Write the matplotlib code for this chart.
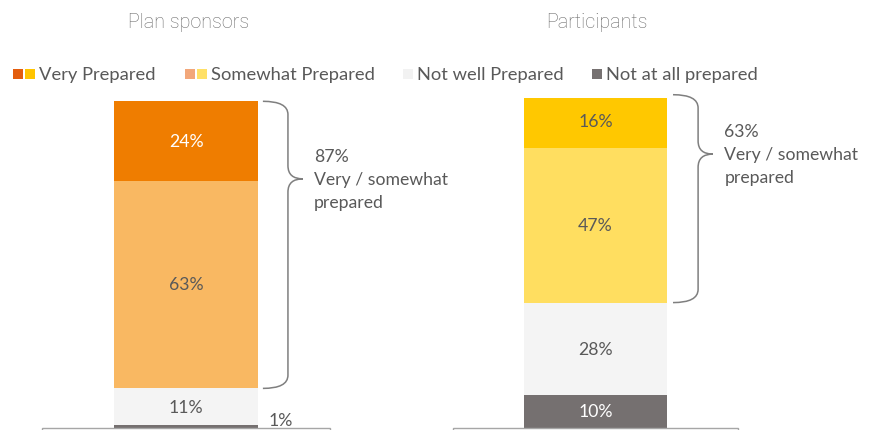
import matplotlib
matplotlib.use("Agg")
import matplotlib.pyplot as plt
from matplotlib.patches import Rectangle, PathPatch
from matplotlib.path import Path
import matplotlib.transforms as mtransforms

plt.rcParams['font.family'] = ['Lato', 'DejaVu Sans']

# ---- data ----
panels = ["Plan sponsors", "Participants"]
categories = ["Not at all prepared", "Not well Prepared", "Somewhat Prepared", "Very Prepared"]
sponsors = [1, 11, 63, 24]
participants = [10, 28, 47, 16]
prepared_totals = [87, 63]
brace_text = "Very / somewhat\nprepared"

sponsor_colors = ["#757070", "#F4F4F4", "#F9B862", "#EF7D00"]
participant_colors = ["#757070", "#F4F4F4", "#FFDE60", "#FFC800"]
label_colors_sp = ["#595959", "#595959", "#595959", "#FFFFFF"]
label_colors_pa = ["#FFFFFF", "#595959", "#595959", "#595959"]

legend_labels = ["Very Prepared", "Somewhat Prepared", "Not well Prepared", "Not at all prepared"]
legend_swatches = [["#E35D0E", "#FFC400"], ["#F2A77A", "#FFE066"], ["#F2F2F2"], ["#767171"]]

TXT = "#595959"
FS = 12.7
W, H = 872, 431
fig = plt.figure(figsize=(W / 100, H / 100), dpi=100)


def px_axes(x0, x1, ytop, ybot):
    return fig.add_axes([x0 / W, 1 - ybot / H, (x1 - x0) / W, (ybot - ytop) / H])


def draw_brace(ax, x0, xv, xt, top, bottom, tip, r=4.0):
    trans = mtransforms.blended_transform_factory(ax.transAxes, ax.transData)
    verts = [
        (x0, top), (xv, top), (xv, top - r),
        (xv, tip + r),
        (xv, tip), (xt, tip),
        (xv, tip), (xv, tip - r),
        (xv, bottom + r),
        (xv, bottom), (x0, bottom),
    ]
    codes = [Path.MOVETO, Path.CURVE3, Path.CURVE3,
             Path.LINETO,
             Path.CURVE3, Path.CURVE3,
             Path.CURVE3, Path.CURVE3,
             Path.LINETO,
             Path.CURVE3, Path.CURVE3]
    ax.add_patch(PathPatch(Path(verts, codes), transform=trans, fill=False,
                           edgecolor="#7F7F7F", lw=1.1, clip_on=False))


def panel(ax, values, colors, lcolors):
    ax.set_xlim(0, 1)
    ax.set_ylim(0, 100)
    ax.axis("off")
    bottom = 0
    for v, c, lc in zip(values, colors, lcolors):
        ax.bar(0.5, v, width=0.5, bottom=bottom, color=c, edgecolor="none")
        if v >= 5:
            ax.text(0.5, bottom + v / 2, f"{v}%", ha="center", va="center",
                    color=lc, fontsize=FS)
        bottom += v
    # frame of the lower panel
    ax.add_patch(Rectangle((0, -0.3), 1, 0.3, transform=ax.transAxes, fill=False,
                           edgecolor="#A6A6A6", lw=1.0, clip_on=False))


def brace_label(ax, x, y, total):
    trans = mtransforms.blended_transform_factory(ax.transAxes, ax.transData)
    ax.text(x, y, f"{total}%\n{brace_text}", ha="left", va="center",
            color=TXT, fontsize=FS, linespacing=1.55, transform=trans)


# left panel
axL = px_axes(42, 330, 99, 429)
panel(axL, sponsors, sponsor_colors, label_colors_sp)
axL.text(0.83, sponsors[0] + 1.4, f"{sponsors[0]}%", ha="center", va="center",
         color=TXT, fontsize=FS)
draw_brace(axL, 0.767, 0.854, 0.906, sum(sponsors), sponsors[0] + sponsors[1], 75.5)
brace_label(axL, 0.945, 75.5, prepared_totals[0])

# right panel
axR = px_axes(453, 738, 99, 429)
panel(axR, participants, participant_colors, label_colors_pa)
draw_brace(axR, 0.772, 0.86, 0.912, sum(participants), participants[0] + participants[1], 83.0)
brace_label(axR, 0.952, 83.0, prepared_totals[1])

# titles
for cx, title in zip([189, 597], panels):
    fig.text(cx / W, 1 - 23 / H, title, ha="center", va="center", color="#6A6A6A",
             fontsize=14.2, family=["Roboto", "DejaVu Sans"], fontweight="light")

# legend
leg_x = [13, 185, 403, 592]
ly = 75
for x, lab, sw in zip(leg_x, legend_labels, legend_swatches):
    cx = x
    for c in sw:
        fig.patches.append(Rectangle((cx / W, 1 - (ly + 5) / H), 10 / W, 10 / H,
                                     transform=fig.transFigure, facecolor=c,
                                     edgecolor="none"))
        cx += 12
    fig.text((cx + 2) / W, 1 - ly / H, lab, ha="left", va="center", color=TXT, fontsize=13.2)

fig.savefig("out.png", dpi=100)
